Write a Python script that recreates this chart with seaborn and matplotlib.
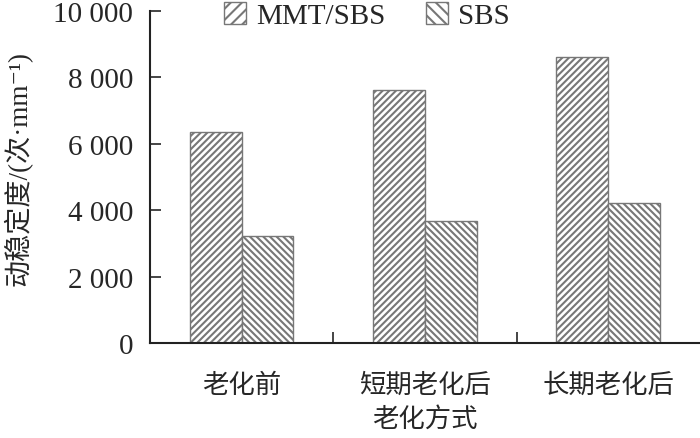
import matplotlib
matplotlib.use("Agg")
import matplotlib.pyplot as plt
import seaborn as sns
import pandas as pd

categories = ["老化前", "短期老化后", "长期老化后"]
series_names = ["MMT/SBS", "SBS"]
mmt_sbs = [6350, 7620, 8600]
sbs = [3230, 3670, 4220]
y_ticks = [0, 2000, 4000, 6000, 8000, 10000]
y_tick_labels = ["0", "2 000", "4 000", "6 000", "8 000", "10 000"]

df = pd.DataFrame({
    "cat": categories * 2,
    "series": [series_names[0]] * 3 + [series_names[1]] * 3,
    "value": mmt_sbs + sbs,
})

sns.set_style("white")
plt.rcParams['font.family'] = ['Liberation Serif', 'Noto Sans CJK SC', 'DejaVu Sans']
plt.rcParams['hatch.linewidth'] = 1.5
plt.rcParams['hatch.color'] = '#111111'

fig = plt.figure(figsize=(7, 4.39), dpi=100)
ax = fig.add_axes([0.214, 0.216, 0.786, 0.757])
sns.barplot(data=df, x="cat", y="value", hue="series", ax=ax,
            palette=["white", "white"], width=0.565, saturation=1,
            edgecolor="#777777", linewidth=1.0)

hatches = ["/" * 5, "\\" * 5]
for cont, h in zip(ax.containers, hatches):
    for p in cont.patches:
        p.set_hatch(h)

ax.set_ylim(0, 10000)
ax.set_xlim(-0.5, 2.5)
ax.set_yticks(y_ticks)
ax.set_yticklabels(y_tick_labels, fontsize=21)
ax.set_xticks([0, 1, 2])
ax.set_xticklabels(categories, fontsize=19, family=['Noto Sans CJK SC'])
ax.tick_params(axis='x', length=0, pad=20)
ax.tick_params(axis='y', direction='in', length=8, width=1.2, left=True, pad=12)
ax.set_xticks([0.5, 1.5], minor=True)
ax.tick_params(axis='x', which='minor', direction='in', length=8, width=1.2, bottom=True)

for s in ["top", "right"]:
    ax.spines[s].set_visible(False)
for s in ["left", "bottom"]:
    ax.spines[s].set_color("#222222")
    ax.spines[s].set_linewidth(1.5)

ax.set_xlabel("老化方式", fontsize=19, family=['Noto Sans CJK SC'], labelpad=5)
ax.set_ylabel("动稳定度/(次·mm⁻¹)", fontsize=19.5,
              family=['Liberation Serif', 'Noto Sans CJK SC', 'DejaVu Sans'])
ax.yaxis.set_label_coords(-0.213, 0.53)

leg = ax.legend(loc="center", bbox_to_anchor=(0.395, 0.985), ncol=2, frameon=False,
                fontsize=21, handlelength=0.75, handleheight=0.75, handletextpad=0.35,
                columnspacing=1.4, borderaxespad=0, borderpad=0)
for h, hh in zip(leg.legend_handles, hatches):
    h.set_hatch(hh[:3])
    h.set_edgecolor("#777777")

fig.savefig("out.png", dpi=100)
